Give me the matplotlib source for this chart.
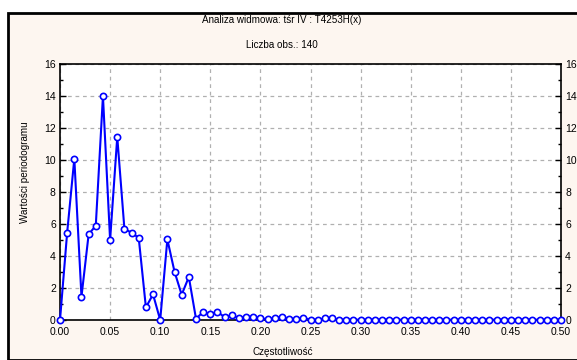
import numpy as np
import matplotlib
matplotlib.use('Agg')
import matplotlib.pyplot as plt
from matplotlib.patches import Rectangle
from matplotlib.ticker import MultipleLocator

plt.rcParams['font.family'] = ['Liberation Sans', 'DejaVu Sans']

# periodogram values for frequencies k/140, k = 0..70
n_obs = 140
periodogram = [0.0, 5.46, 10.08, 1.46, 5.35, 5.9, 14.0, 5.0, 11.44, 5.69,
               5.46, 5.13, 0.79, 1.6, 0.0, 5.04, 3.02, 1.58, 2.69, 0.08,
               0.5, 0.37, 0.52, 0.17, 0.3, 0.12, 0.2, 0.2, 0.12, 0.04,
               0.12, 0.2, 0.08, 0.06, 0.12, 0.03, 0.02, 0.1, 0.1, 0.02,
               0.02, 0.02, 0.02, 0.02, 0.02, 0.02, 0.02, 0.02, 0.02, 0.02,
               0.02, 0.02, 0.02, 0.02, 0.02, 0.02, 0.02, 0.02, 0.02, 0.02,
               0.02, 0.02, 0.02, 0.02, 0.02, 0.02, 0.02, 0.02, 0.02, 0.02,
               0.02]
freq = np.arange(len(periodogram)) / n_obs

title1 = 'Analiza widmowa: tśr IV : T4253H(x)'
title2 = 'Liczba obs.: 140'
xlabel = 'Częstotliwość'
ylabel = 'Wartości periodogramu'

W, H = 577, 360
bg = '#FDF6F0'
fig = plt.figure(figsize=(W / 100, H / 100), dpi=100)
fig.patch.set_facecolor('white')

# cream panel with black frame
fig.patches.append(Rectangle((8 / W, 0), 1, 1 - 13 / H, transform=fig.transFigure,
                             facecolor=bg, edgecolor='black', linewidth=2, zorder=-10))

ax = fig.add_axes([60 / W, 1 - 320 / H, (561 - 60) / W, (320 - 64) / H])
ax.set_facecolor('white')
ax.plot(freq, periodogram, color='#0000FF', linewidth=1.5, marker='o',
        markersize=4.5, markerfacecolor='white', markeredgecolor='#0000FF',
        markeredgewidth=1.2, clip_on=False, zorder=3)

ax.set_xlim(0, 0.5)
ax.set_ylim(0, 16)
ax.xaxis.set_major_locator(MultipleLocator(0.05))
ax.yaxis.set_major_locator(MultipleLocator(2))
ax.yaxis.set_minor_locator(MultipleLocator(1))
ax.set_xticklabels([f'{v:.2f}' for v in ax.get_xticks()])
ax.grid(True, color='#B0B0B0', linestyle=(0, (3, 3)), linewidth=0.9)
ax.set_axisbelow(True)
ax.tick_params(axis='both', which='both', direction='in', labelsize=7.5,
               color='black', width=1)
ax.tick_params(axis='y', which='both', right=True, labelright=True, pad=3)
ax.tick_params(axis='y', which='major', length=4)
ax.tick_params(axis='y', which='minor', length=2.5)
ax.tick_params(axis='x', which='major', length=0, pad=5)
for s in ax.spines.values():
    s.set_linewidth(1.2)
    s.set_color('black')

fig.text(282 / W, 1 - 20 / H, title1, ha='center', va='center', fontsize=7.1)
fig.text(282 / W, 1 - 45 / H, title2, ha='center', va='center', fontsize=7.1)
fig.text(283 / W, 1 - 352 / H, xlabel, ha='center', va='center', fontsize=7.1)
fig.text(25 / W, 1 - 172 / H, ylabel, ha='center', va='center', rotation=90,
         fontsize=7.1)

fig.savefig('out.png', dpi=100, facecolor=fig.get_facecolor())
